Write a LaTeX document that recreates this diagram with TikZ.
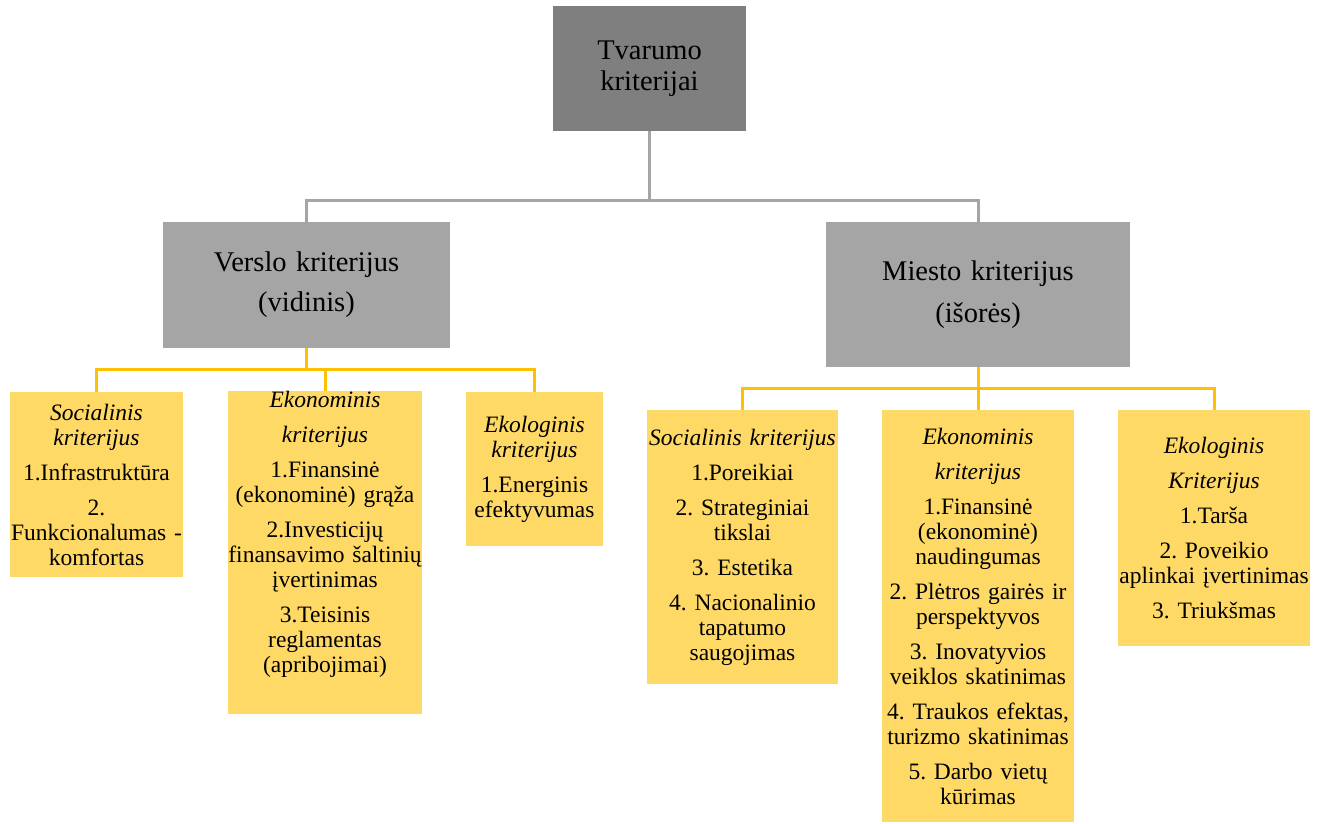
\documentclass[tikz,border=0pt]{standalone}
\usepackage{fontspec}
\setmainfont{Liberation Serif}
\usetikzlibrary{positioning}
\definecolor{topgray}{HTML}{7F7F7F}
\definecolor{midgray}{HTML}{A5A5A5}
\definecolor{boxgold}{HTML}{FFD966}
\definecolor{linegold}{HTML}{FFC000}
\tikzset{>=latex}
\hyphenpenalty=10000
\exhyphenpenalty=10000
\frenchspacing

\begin{document}
\begin{tikzpicture}[x=1pt, y=-1pt,
		topbox/.style={fill=topgray, align=center, inner sep=0pt,
			font=\fontsize{28.5}{31}\selectfont},
		midbox/.style={fill=midgray, align=center, inner sep=0pt,
			font=\fontsize{28.5}{31}\selectfont},
		critbox/.style={fill=boxgold, align=center, inner sep=0pt,
			font=\fontsize{23.5}{25}\selectfont},
		graylink/.style={draw=midgray, line width=3pt},
		goldlink/.style={draw=linegold, line width=3pt}]
		\useasboundingbox (0,0) rectangle (1326,823);

		% top of the tree
		\node[topbox, text width=193pt, minimum height=125pt] (tvarumo)
			at (649.5,68.5) {Tvarumo\\kriterijai};

		% the two groups
		\node[midbox, text width=287pt, minimum height=126pt] (verslo)
			at (306.5,285) {Verslo kriterijus\\[9pt](vidinis)};
		\node[midbox, text width=304pt, minimum height=145pt] (miesto)
			at (978,294.5) {Miesto kriterijus\\[11pt](išorės)};

		% business criteria
		\node[critbox, text width=173pt, minimum height=185pt] (soc1)
			at (96.5,484.5) {\textit{Socialinis}\\\textit{kriterijus}\\[10pt]
			1.Infrastruktūra\\[10pt]2.\\Funkcionalumas -\\komfortas};
		\node[critbox, text width=194pt, minimum height=321pt] (eko1)
			at (325,552.5) {\textit{Ekonominis}\\[10pt]\textit{kriterijus}\\[10pt]
			1.Finansinė\\(ekonominė) grąža\\[10pt]
			2.Investicijų\\finansavimo šaltinių\\įvertinimas\\[10pt]
			3.Teisinis\\reglamentas\\(apribojimai)\\[16pt]~};
		\node[critbox, text width=137pt, minimum height=154pt] (ekl1)
			at (534.5,469) {\textit{Ekologinis}\\\textit{kriterijus}\\[10pt]
			1.Energinis\\efektyvumas};

		% city criteria
		\node[critbox, text width=191pt, minimum height=274pt] (soc2)
			at (742.5,547) {\textit{Socialinis kriterijus}\\[10pt]
			1.Poreikiai\\[10pt]2. Strateginiai\\tikslai\\[10pt]
			3. Estetika\\[10pt]4. Nacionalinio\\tapatumo\\saugojimas};
		\node[critbox, text width=192pt, minimum height=412pt] (eko2)
			at (978,616) {\textit{Ekonominis}\\[10pt]\textit{kriterijus}\\[10pt]
			1.Finansinė\\(ekonominė)\\naudingumas\\[10pt]
			2. Plėtros gairės ir\\perspektyvos\\[10pt]
			3. Inovatyvios\\veiklos skatinimas\\[10pt]
			4. Traukos efektas,\\turizmo skatinimas\\[10pt]
			5. Darbo vietų\\kūrimas};
		\node[critbox, text width=192pt, minimum height=236pt] (ekl2)
			at (1214,528) {\textit{Ekologinis}\\[10pt]\textit{Kriterijus}\\[10pt]
			1.Tarša\\[10pt]2. Poveikio\\aplinkai įvertinimas\\[10pt]
			3. Triukšmas};

		% gray links
		\coordinate (busT) at (649.5,200);
		\draw[graylink] (tvarumo.south) -- (busT);
		\draw[graylink] (busT) -| (verslo.north);
		\draw[graylink] (busT) -| (miesto.north);

		% gold links, left
		\coordinate (busL) at (306.5,369);
		\draw[goldlink] (verslo.south) -- (busL);
		\foreach \n in {soc1,eko1,ekl1}
			\draw[goldlink] (busL) -| (\n.north);

		% gold links, right
		\coordinate (busR) at (978,388);
		\draw[goldlink] (miesto.south) -- (busR);
		\foreach \n in {soc2,eko2,ekl2}
			\draw[goldlink] (busR) -| (\n.north);
	\end{tikzpicture}
\end{document}
